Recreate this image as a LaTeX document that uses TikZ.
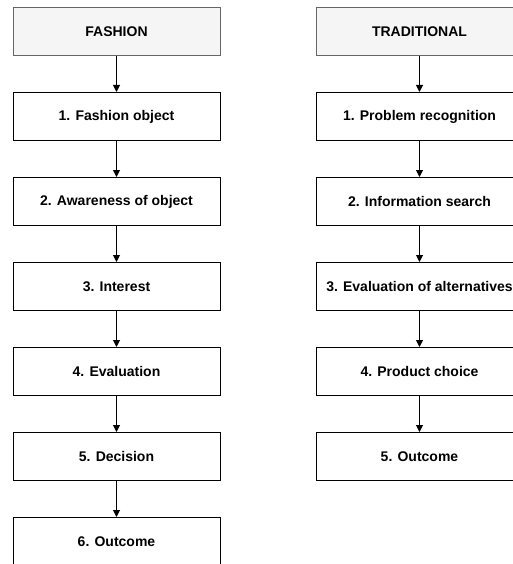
\documentclass[tikz,border=0pt]{standalone}
\usepackage{fontspec}
\setmainfont{Liberation Sans}
\usetikzlibrary{arrows.meta}
\begin{document}
\begin{tikzpicture}[x=1pt,y=-1pt,
  base/.style={minimum width=207pt,minimum height=48pt,inner sep=0pt,anchor=north,
    font=\fontsize{14}{16}\selectfont\bfseries,line width=1pt},
  headbox/.style={base,draw=black!60,fill=black!4},
  stepbox/.style={base,draw=black,fill=white},
  conn/.style={line width=1pt,-{Triangle[length=7pt,width=7pt]}}]
\useasboundingbox (0,0) rectangle (512,564);
% left column
\node[headbox] (f0) at (116.5,7) {FASHION};
\node[stepbox] (f1) at (116.5,92) {1. Fashion object};
\node[stepbox] (f2) at (116.5,177) {2. Awareness of object};
\node[stepbox] (f3) at (116.5,262) {3. Interest};
\node[stepbox] (f4) at (116.5,347) {4. Evaluation};
\node[stepbox] (f5) at (116.5,432) {5. Decision};
\node[stepbox] (f6) at (116.5,517) {6. Outcome};
% right column
\node[headbox] (t0) at (419.5,7) {TRADITIONAL};
\node[stepbox] (t1) at (419.5,92) {1. Problem recognition};
\node[stepbox] (t2) at (419.5,177) {2. Information search};
\node[stepbox] (t3) at (419.5,262) {3. Evaluation of alternatives};
\node[stepbox] (t4) at (419.5,347) {4. Product choice};
\node[stepbox] (t5) at (419.5,432) {5. Outcome};
\foreach \a/\b in {f0/f1,f1/f2,f2/f3,f3/f4,f4/f5,f5/f6,t0/t1,t1/t2,t2/t3,t3/t4,t4/t5}
  \draw[conn] (\a.south) -- (\b.north);
\end{tikzpicture}
\end{document}
